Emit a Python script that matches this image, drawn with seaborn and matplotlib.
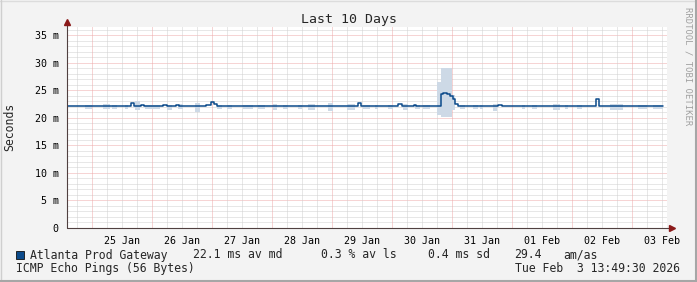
import matplotlib
matplotlib.use("Agg")
import matplotlib.pyplot as plt
from matplotlib.patches import Rectangle
from matplotlib.lines import Line2D
import pandas as pd
import seaborn as sns

# ---------------- data ----------------
window_start = "2026-01-24 13:49:30"
window_end = "2026-02-03 13:49:30"

# median RTT step changes (hours since window start, ms)
med_hours = [0, 25.6, 26.6, 29.6, 30.6, 38.4, 40.0, 43.6, 44.6, 55.6, 57.6, 58.8, 60.0,
             116.4, 117.6, 132.4, 134.0, 138.8, 139.6, 149.6, 150.4, 152.0, 153.2,
             154.4, 155.2, 156.4, 172.4, 174.0, 211.6, 212.8, 238.4]
med_ms = [22.1, 22.7, 22.1, 22.3, 22.1, 22.4, 22.1, 22.4, 22.1, 22.4, 22.85, 22.6, 22.1,
          22.7, 22.1, 22.5, 22.1, 22.3, 22.1, 24.3, 24.5, 24.3, 24.0,
          23.45, 22.5, 22.1, 22.3, 22.1, 23.45, 22.1, 22.1]

# smoke (ping spread) segments: start hour, end hour, low ms, high ms
smoke_start = [7.2, 14.4, 18.0, 23.2, 27.2, 31.2, 40.0, 44.4, 51.2, 60.0, 64.0, 70.4, 76.4,
               82.4, 86.4, 92.4, 96.4, 104.4, 112.0, 118.4, 123.2, 128.4, 134.4, 139.2,
               142.4, 148.0, 149.6, 154.0, 157.2, 162.4, 165.2, 170.4, 182.0, 186.0,
               194.4, 199.2, 204.0, 217.2, 228.4, 234.4]
smoke_end = [10.0, 17.2, 20.0, 24.4, 29.2, 37.2, 42.0, 46.4, 53.2, 62.0, 66.0, 74.4, 79.2,
             84.0, 88.4, 94.0, 99.2, 106.4, 115.2, 121.2, 124.4, 130.4, 136.4, 141.2,
             145.2, 149.6, 154.0, 155.2, 159.2, 164.4, 166.4, 172.0, 183.2, 188.0,
             197.2, 200.4, 206.0, 222.4, 232.0, 238.4]
smoke_lo = [21.6, 21.6, 21.6, 21.7, 21.5, 21.6, 21.5, 21.6, 21.1, 21.6, 21.6, 21.6, 21.6,
            21.4, 21.6, 21.6, 21.5, 21.3, 21.5, 21.6, 21.6, 21.6, 21.5, 21.6,
            21.6, 20.5, 20.2, 21.5, 21.6, 21.6, 21.6, 21.3, 21.6, 21.6,
            21.4, 21.6, 21.6, 21.5, 21.6, 21.6]
smoke_hi = [22.4, 22.5, 22.4, 22.4, 23.1, 22.4, 22.4, 22.5, 22.7, 22.4, 22.4, 22.4, 22.4,
            22.6, 22.4, 22.4, 22.5, 22.7, 22.6, 22.4, 22.4, 22.4, 22.6, 22.4,
            22.4, 26.6, 29.1, 24.2, 22.4, 22.4, 22.4, 22.6, 22.4, 22.4,
            22.6, 22.4, 22.4, 22.5, 22.4, 22.4]

y_ticks = [0, 5, 10, 15, 20, 25, 30, 35]
y_tick_labels = ["0", "5 m", "10 m", "15 m", "20 m", "25 m", "30 m", "35 m"]
x_tick_labels = ["25 Jan", "26 Jan", "27 Jan", "28 Jan", "29 Jan", "30 Jan",
                 "31 Jan", "01 Feb", "02 Feb", "03 Feb"]

title = "Last 10 Days"
target = "Atlanta Prod Gateway"
stats = ["22.1 ms av md", "0.3 % av ls", "0.4 ms sd", "29.4", "am/as"]
footer_left = "ICMP Echo Pings (56 Bytes)"
footer_right = "Tue Feb  3 13:49:30 2026"

# ---------------- styling ----------------
W, H = 697, 282
MONO = ["DejaVu Sans Mono"]
sns.set_style("white")
plt.rcParams["font.family"] = MONO

BG = "#f3f3f3"
MED = "#0b4a8a"
SMOKE = "#cdd9e6"
MINOR = "#d0d0d0"
MAJOR = "#eeaaaa"
AXIS = "#504040"
ARROW = "#8b1a1a"

fig = plt.figure(figsize=(W / 100, H / 100), dpi=100)
fig.patch.set_facecolor(BG)

ax_l, ax_r, ax_t, ax_b = 67, 667, 27, 228
ax = fig.add_axes([ax_l / W, 1 - ax_b / H, (ax_r - ax_l) / W, (ax_b - ax_t) / H])
ax.set_facecolor("white")

t0 = pd.Timestamp(window_start)
t1 = pd.Timestamp(window_end)

# grid (dotted 1px lines)
gkw = dict(lw=0.72, ls=(0, (1, 1)), zorder=1, snap=True)
for m in range(1, 37):
    ax.axhline(m, color=MAJOR if m % 5 == 0 else MINOR, **gkw)
for k in pd.date_range("2026-01-24 18:00", "2026-02-03 12:00", freq="6h"):
    ax.axvline(k, color=MAJOR if k.hour == 0 else MINOR, **gkw)

# smoke
for s, e, lo, hi in zip(smoke_start, smoke_end, smoke_lo, smoke_hi):
    ts = [t0 + pd.Timedelta(hours=s), t0 + pd.Timedelta(hours=e)]
    ax.fill_between(ts, [lo, lo], [hi, hi], color=SMOKE, lw=0, zorder=2)

# median
df = pd.DataFrame({"time": [t0 + pd.Timedelta(hours=h) for h in med_hours],
                   "ms": med_ms})
sns.lineplot(data=df, x="time", y="ms", ax=ax, estimator=None, sort=False,
             drawstyle="steps-post", color=MED, lw=1.1, zorder=4)

ax.set_xlim(t0, t1)
ax.set_ylim(0, 36.5)
ax.set_xlabel("")
ax.set_ylabel("")
for sp in ax.spines.values():
    sp.set_visible(False)

ax.set_yticks(y_ticks)
ax.set_yticklabels(y_tick_labels, fontsize=7.2)
ax.set_yticks(range(0, 37), minor=True)
noon = pd.date_range("2026-01-25 12:00", periods=len(x_tick_labels), freq="D")
ax.set_xticks(noon)
ax.set_xticklabels(x_tick_labels, fontsize=7.2)
ax.set_xticks(pd.date_range("2026-01-25", "2026-02-03", freq="D"), minor=True)
ax.tick_params(axis="y", which="major", length=3, width=0.7, color=AXIS, pad=3)
ax.tick_params(axis="y", which="minor", length=1.5, width=0.7, color=AXIS)
ax.tick_params(axis="x", which="major", length=0, pad=5.5)
ax.tick_params(axis="x", which="minor", length=2.5, width=0.7, color=AXIS)
ax.tick_params(labelcolor="black")

# axis lines and arrows
ax.plot([0, 0], [0, 1 + 4 / 201], transform=ax.transAxes, clip_on=False,
        color=AXIS, lw=0.8, zorder=6)
ax.plot([0], [1 + 5 / 201], transform=ax.transAxes, clip_on=False,
        marker="^", ms=4.5, color=ARROW, zorder=6)
ax.plot([0, 1 + 4 / 600], [0, 0], transform=ax.transAxes, clip_on=False,
        color=AXIS, lw=0.8, zorder=6)
ax.plot([1 + 5 / 600], [0], transform=ax.transAxes, clip_on=False,
        marker=">", ms=4.5, color=ARROW, zorder=6)

# texts
def fx(x):
    return x / W

def fy(y):
    return 1 - y / H

fig.text(fx(349), fy(19), title, ha="center", va="center", fontsize=9.5)
fig.text(fx(10), fy(127), "Seconds", ha="center", va="center", rotation=90,
         fontsize=8.3)
fig.text(fx(688), fy(66), "RRDTOOL / TOBI OETIKER", ha="center", va="center",
         rotation=270, fontsize=6.4, color="#a0a0a0")

fig.patches.append(Rectangle((fx(16), fy(259)), 8 / W, 8 / H, transform=fig.transFigure,
                             facecolor=MED, edgecolor="#101010", lw=0.6))
fig.text(fx(30), fy(255), target, ha="left", va="center", fontsize=8.3)
for xp, s in zip([193, 321, 428, 514, 563], stats):
    fig.text(fx(xp), fy(255), s, ha="left", va="center", fontsize=8.3)
fig.text(fx(16), fy(268.5), footer_left, ha="left", va="center", fontsize=8.3)
fig.text(fx(680), fy(268.5), footer_right, ha="right", va="center", fontsize=8.3)

# frame
fig.lines.append(Line2D([0, 1], [1 - 0.5 / H] * 2, transform=fig.transFigure,
                        color="#dcdcdc", lw=1.0))
fig.lines.append(Line2D([0.5 / W] * 2, [0, 1], transform=fig.transFigure,
                        color="#cfcfcf", lw=1.0))
fig.lines.append(Line2D([0, 1], [1.0 / H] * 2, transform=fig.transFigure,
                        color="#a6a6a6", lw=1.5))
fig.lines.append(Line2D([1 - 1.0 / W] * 2, [0, 1], transform=fig.transFigure,
                        color="#a6a6a6", lw=1.5))

fig.savefig("out.png", dpi=100, facecolor=BG)
